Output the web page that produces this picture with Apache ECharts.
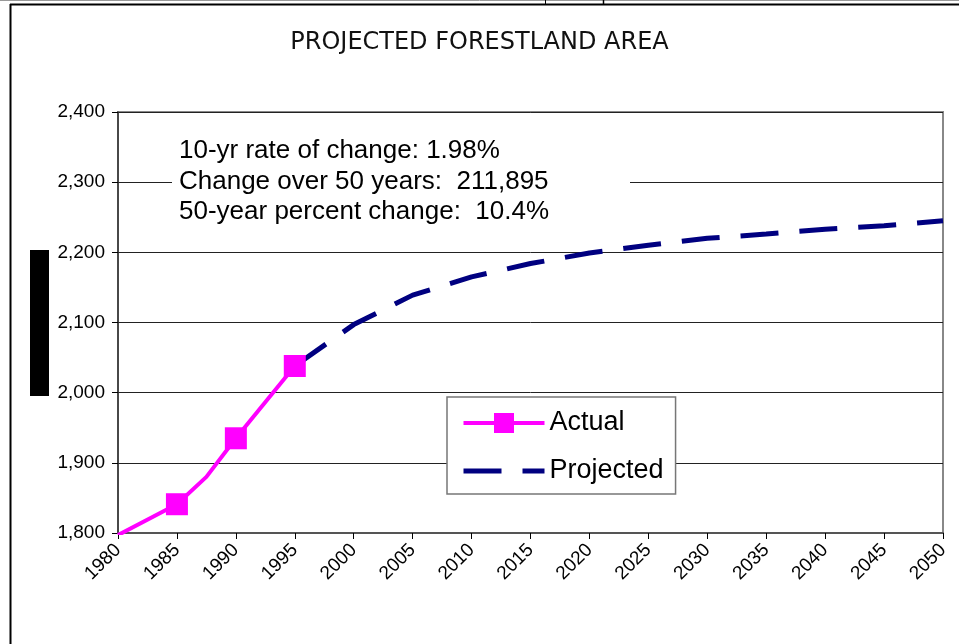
<!DOCTYPE html>
<html>
<head>
<meta charset="utf-8">
<script src="https://cdn.jsdelivr.net/npm/echarts@6/dist/echarts.min.js"></script>
<style>
	html, body { margin: 0; padding: 0; background: #fff; }
	#chart { width: 959px; height: 644px; }
</style>
</head>
<body>
<div id="chart"></div>
<script>
	// values (thousand acres)
	var actualYears = [1980, 1985, 1987.5, 1990, 1995];
	var actualValues = [1797, 1841, 1880, 1935, 2038];
	var markerYears = [1985, 1990, 1995];
	var projYears = [1995, 2000, 2005, 2010, 2015, 2020, 2025, 2030, 2035, 2040, 2045, 2050];
	var projValues = [2038, 2097, 2139, 2165, 2184, 2199, 2210, 2220, 2226, 2233, 2238, 2245];
	var noteLines = [
		'10-yr rate of change: 1.98%',
		'Change over 50 years:  211,895',
		'50-year percent change:  10.4%'
	];

	var font = 'Liberation Sans, Arial, sans-serif';

	var actualData = actualYears.map(function (y, i) {
		var item = { value: [y, actualValues[i]] };
		if (markerYears.indexOf(y) < 0) item.symbol = 'none';
		return item;
	});
	var projData = projYears.map(function (y, i) {
		return [y, projValues[i]];
	});

	// text box in the upper left of the plot
	var noteGraphics = [
		{ type: 'rect', z: 10, shape: { x: 172, y: 132, width: 458, height: 96 }, style: { fill: '#fff' } }
	];
	noteLines.forEach(function (t, i) {
		noteGraphics.push({
			type: 'text',
			z: 11,
			x: 179,
			y: 151 + i * 30.5,
			style: {
				text: t,
				font: '26px ' + font,
				fill: '#000',
				verticalAlign: 'middle'
			}
		});
	});

	var myChart = echarts.init(document.getElementById('chart'));
	myChart.setOption({
		backgroundColor: '#fff',
		animation: false,
		title: {
			text: 'PROJECTED FORESTLAND AREA',
			left: 'center',
			top: 26,
			textStyle: {
				fontFamily: 'DejaVu Sans',
				fontWeight: 'normal',
				fontSize: 24,
				color: '#111'
			}
		},
		grid: {
			left: 118,
			right: 16,
			top: 112,
			bottom: 111,
			show: true,
			borderColor: '#888',
			borderWidth: 2
		},
		legend: {
			orient: 'vertical',
			left: 447,
			top: 397,
			padding: [11, 12, 8, 14],
			itemGap: 18,
			itemWidth: 81,
			itemHeight: 25,
			backgroundColor: '#fff',
			borderColor: '#777',
			borderWidth: 1.5,
			borderRadius: 0,
			textStyle: {
				fontFamily: font,
				fontSize: 27,
				color: '#000',
				lineHeight: 30
			},
			data: [
				{ name: 'Actual', lineStyle: { width: 4 } },
				{ name: 'Projected', itemStyle: { opacity: 0 }, lineStyle: { width: 5 } }
			]
		},
		xAxis: {
			type: 'value',
			min: 1980,
			max: 2050,
			interval: 5,
			axisLine: {
				lineStyle: { color: '#555', width: 2 }
			},
			axisTick: {
				inside: false,
				length: 6,
				lineStyle: { color: '#000' }
			},
			axisLabel: {
				rotate: 45,
				margin: 14,
				fontFamily: font,
				fontSize: 19,
				color: '#000',
				formatter: function (v) {
					return String(v);
				}
			},
			splitLine: { show: false }
		},
		yAxis: {
			type: 'value',
			min: 1800,
			max: 2400,
			interval: 100,
			axisLine: {
				show: true,
				lineStyle: { color: '#333', width: 1.5 }
			},
			axisTick: {
				show: true,
				length: 6,
				lineStyle: { color: '#000' }
			},
			axisLabel: {
				margin: 13,
				fontFamily: font,
				fontSize: 19,
				color: '#000',
				formatter: function (v) {
					return v.toLocaleString('en-US');
				}
			},
			splitLine: {
				lineStyle: { color: '#222', width: 1 }
			}
		},
		series: [{
			name: 'Projected',
			type: 'line',
			data: projData,
			symbol: 'none',
			clip: true,
			lineStyle: {
				color: '#000080',
				width: 5,
				type: [38, 21]
			},
			itemStyle: { color: '#000080' }
		}, {
			name: 'Actual',
			type: 'line',
			data: actualData,
			symbol: 'rect',
			symbolSize: 22,
			clip: true,
			lineStyle: {
				color: '#FF00FF',
				width: 4
			},
			itemStyle: { color: '#FF00FF' }
		}],
		graphic: [
			// sheet cell borders around the chart object
			{ type: 'line', shape: { x1: 0, y1: 0.5, x2: 959, y2: 0.5 }, style: { stroke: '#999', lineWidth: 1 } },
			{ type: 'line', shape: { x1: 10, y1: 4.5, x2: 959, y2: 4.5 }, style: { stroke: '#000', lineWidth: 2 } },
			{ type: 'line', shape: { x1: 10.5, y1: 4, x2: 10.5, y2: 644 }, style: { stroke: '#000', lineWidth: 2 } },
			{ type: 'line', shape: { x1: 545.5, y1: 0, x2: 545.5, y2: 4 }, style: { stroke: '#000', lineWidth: 1 } },
			{ type: 'line', shape: { x1: 603.5, y1: 0, x2: 603.5, y2: 4 }, style: { stroke: '#000', lineWidth: 1.5 } },
			// blacked out axis title
			{ type: 'rect', shape: { x: 30, y: 250, width: 19, height: 146 }, style: { fill: '#000' } }
		].concat(noteGraphics)
	});
</script>
</body>
</html>
